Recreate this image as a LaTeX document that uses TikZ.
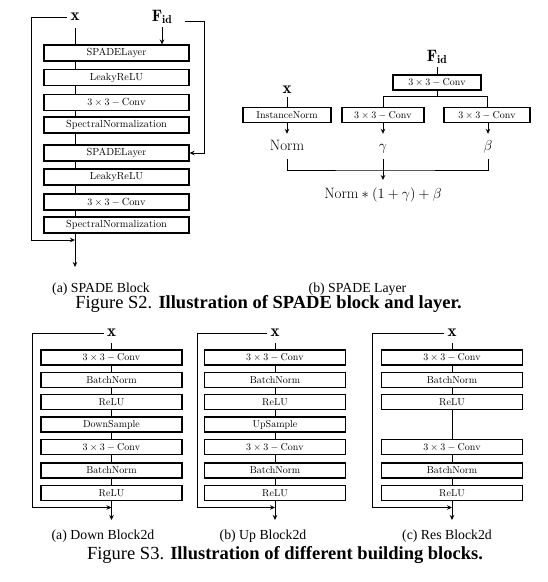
\documentclass[tikz,border=0pt]{standalone}
\usepackage{fontspec}
\newfontfamily\tms{Liberation Serif}
\usetikzlibrary{arrows.meta}
\begin{document}
\begin{tikzpicture}[x=1pt,y=-1pt,
  ln/.style={line width=0.8pt},
  arr/.style={-{Stealth[length=5pt,width=4.5pt]}},
  blk/.style={draw,line width=1.1pt,minimum height=15pt,inner sep=0pt,font=\fontsize{10}{12}\selectfont},
  sblk/.style={blk,minimum width=145pt,minimum height=16pt,font=\fontsize{10.3}{12}\selectfont},
  dblk/.style={blk,minimum width=141pt},
  lab/.style={inner xsep=3pt,inner ysep=7pt,font=\fontsize{17}{20}\selectfont},
  fid/.style={inner sep=3pt,font=\fontsize{16.5}{20}\selectfont},
  ml/.style={anchor=base,text height=11pt,text depth=4pt,inner xsep=2pt,inner ysep=5pt,font=\fontsize{15}{18}\selectfont},
  subcap/.style={font=\tms\fontsize{13.8}{16}\selectfont},
  figcap/.style={font=\tms\fontsize{18.5}{22}\selectfont}]
\useasboundingbox (0,0) rectangle (548,582);

% ---------------- (a) SPADE Block ----------------
\node[lab] (xa) at (75,17) {$\mathbf{x}$};
\node[fid] (fa) at (162,17) {$\mathbf{F}_{\mathbf{id}}$};
\node[sblk] (a1) at (116.5,53) {SPADELayer};
\node[sblk] (a2) at (116.5,77.5) {LeakyReLU};
\node[sblk] (a3) at (116.5,102.5) {$3\times3-\mathrm{Conv}$};
\node[sblk] (a4) at (116.5,125) {SpectralNormalization};
\node[sblk] (a5) at (116.5,153) {SPADELayer};
\node[sblk] (a6) at (116.5,177) {LeakyReLU};
\node[sblk] (a7) at (116.5,202) {$3\times3-\mathrm{Conv}$};
\node[sblk] (a8) at (116.5,225) {SpectralNormalization};
\coordinate (aout) at (75,267);
\coordinate (aj) at (75,240);
\coordinate (fr) at (185,21);
\draw[ln] (xa.south) -- (xa.south |- a1.north);
\draw[ln] (a1.south -| xa) -- (a2.north -| xa);
\draw[ln] (a2.south -| xa) -- (a3.north -| xa);
\draw[ln] (a3.south -| xa) -- (a4.north -| xa);
\draw[ln] (a4.south -| xa) -- (a5.north -| xa);
\draw[ln] (a5.south -| xa) -- (a6.north -| xa);
\draw[ln] (a6.south -| xa) -- (a7.north -| xa);
\draw[ln] (a7.south -| xa) -- (a8.north -| xa);
\draw[ln,arr] (a8.south -| xa) -- (aout);
\draw[ln,arr] (xa.west) -| (31,240) -- (aj);
\draw[ln,arr] (fa.south) -- (fa.south |- a1.north);
\draw[ln,arr] (fr) -| (204,153) -- (a5.east);
\node[subcap] (capa) at (101,289) {(a) SPADE Block};

% ---------------- (b) SPADE Layer ----------------
\node[fid] (fb) at (437,57) {$\mathbf{F}_{\mathbf{id}}$};
\node[blk,minimum width=88pt] (c0) at (437,82.5) {$3\times3-\mathrm{Conv}$};
\node[blk,minimum width=88pt] (inorm) at (287,115) {InstanceNorm};
\node[blk,minimum width=82pt] (cg) at (383,115) {$3\times3-\mathrm{Conv}$};
\node[blk,minimum width=86pt] (cb) at (487,115) {$3\times3-\mathrm{Conv}$};
\node[lab,inner ysep=3pt] (xb) at (287,90) {$\mathbf{x}$};
\coordinate (split) at (437,96);
\draw[ln] (fb.south) -- (c0.north);
\draw[ln] (c0.south) -- (split);
\draw[ln] (split) -| (cg.north);
\draw[ln] (split) -| (cb.north);
\draw[ln] (xb.south) -- (inorm.north);
\node[ml] (nm) at (287,150) {$\mathrm{Norm}$};
\node[ml] (gm) at (383,150) {$\gamma$};
\node[ml] (bt) at (488,150) {$\beta$};
\draw[ln,arr] (inorm.south) -- (nm.north);
\draw[ln,arr] (cg.south) -- (gm.north);
\draw[ln,arr] (cb.south -| bt) -- (bt.north);
\coordinate (bb) at (383,170);
\draw[ln] (nm.south) |- (bb) -| (bt.south);
\node[anchor=base,inner ysep=7pt,font=\fontsize{15}{18}\selectfont] (res) at (383,198) {$\mathrm{Norm}*(1+\gamma)+\beta$};
\draw[ln,arr] (gm.south) -- (res.north);
\node[subcap] (capb) at (357.5,289) {(b) SPADE Layer};

\node[figcap] (f2) at (268.5,304) {Figure S2. \textbf{Illustration of SPADE block and layer.}};

% ---------------- (a) Down Block2d ----------------
\node[lab,inner ysep=6pt] (xd) at (111.5,333) {$\mathbf{x}$};
\node[dblk] (d1) at (111.5,357.5) {$3\times3-\mathrm{Conv}$};
\node[dblk] (d2) at (111.5,380) {BatchNorm};
\node[dblk] (d3) at (111.5,402) {ReLU};
\node[dblk] (d4) at (111.5,424.5) {DownSample};
\node[dblk] (d5) at (111.5,447) {$3\times3-\mathrm{Conv}$};
\node[dblk] (d6) at (111.5,470.5) {BatchNorm};
\node[dblk] (d7) at (111.5,493) {ReLU};
\coordinate (dout) at (111.5,520);
\coordinate (dj) at (111.5,507.5);
\draw[ln] (xd.south) -- (d1.north);
\draw[ln] (d1.south) -- (d2.north);
\draw[ln] (d2.south) -- (d3.north);
\draw[ln] (d3.south) -- (d4.north);
\draw[ln] (d4.south) -- (d5.north);
\draw[ln] (d5.south) -- (d6.north);
\draw[ln] (d6.south) -- (d7.north);
\draw[ln,arr] (d7.south) -- (dout);
\draw[ln,arr] (xd.west) -| (32,507.5) -- (dj);
\node[subcap] (capd) at (103,536) {(a) Down Block2d};

% ---------------- (b) Up Block2d ----------------
\node[lab,inner ysep=6pt] (xu) at (275,333) {$\mathbf{x}$};
\node[dblk] (u1) at (275,357.5) {$3\times3-\mathrm{Conv}$};
\node[dblk] (u2) at (275,380) {BatchNorm};
\node[dblk] (u3) at (275,402) {ReLU};
\node[dblk] (u4) at (275,424.5) {UpSample};
\node[dblk] (u5) at (275,447) {$3\times3-\mathrm{Conv}$};
\node[dblk] (u6) at (275,470.5) {BatchNorm};
\node[dblk] (u7) at (275,493) {ReLU};
\coordinate (uout) at (275,520);
\coordinate (uj) at (275,507.5);
\draw[ln] (xu.south) -- (u1.north);
\draw[ln] (u1.south) -- (u2.north);
\draw[ln] (u2.south) -- (u3.north);
\draw[ln] (u3.south) -- (u4.north);
\draw[ln] (u4.south) -- (u5.north);
\draw[ln] (u5.south) -- (u6.north);
\draw[ln] (u6.south) -- (u7.north);
\draw[ln,arr] (u7.south) -- (uout);
\draw[ln,arr] (xu.west) -| (197,507.5) -- (uj);
\node[subcap] (capu) at (263,536) {(b) Up Block2d};

% ---------------- (c) Res Block2d ----------------
\node[lab,inner ysep=6pt] (xr) at (452,333) {$\mathbf{x}$};
\node[dblk] (r1) at (452,357.5) {$3\times3-\mathrm{Conv}$};
\node[dblk] (r2) at (452,380) {BatchNorm};
\node[dblk] (r3) at (452,402) {ReLU};
\node[dblk] (r4) at (452,447) {$3\times3-\mathrm{Conv}$};
\node[dblk] (r5) at (452,470.5) {BatchNorm};
\node[dblk] (r6) at (452,493) {ReLU};
\coordinate (rout) at (452,520);
\coordinate (rj) at (452,507.5);
\draw[ln] (xr.south) -- (r1.north);
\draw[ln] (r1.south) -- (r2.north);
\draw[ln] (r2.south) -- (r3.north);
\draw[ln] (r3.south) -- (r4.north);
\draw[ln] (r4.south) -- (r5.north);
\draw[ln] (r5.south) -- (r6.north);
\draw[ln,arr] (r6.south) -- (rout);
\draw[ln,arr] (xr.west) -| (372,507.5) -- (rj);
\node[subcap] (capr) at (447,536) {(c) Res Block2d};

\node[figcap] (f3) at (285,555) {Figure S3. \textbf{Illustration of different building blocks.}};
\end{tikzpicture}
\end{document}
